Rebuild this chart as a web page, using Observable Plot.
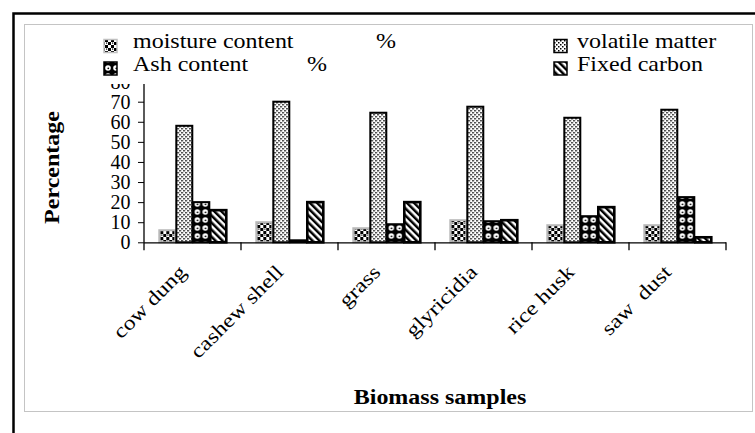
<!DOCTYPE html>
<html><head><meta charset="utf-8">
<script src="https://cdn.jsdelivr.net/npm/d3@7"></script>
<script src="https://cdn.jsdelivr.net/npm/@observablehq/plot@0.6"></script>
<style>
html,body{margin:0;padding:0;background:#fff;}
svg text{white-space:pre;}
</style></head><body><div id="chart"></div>
<script>
const categories = ["cow dung", "cashew shell", "grass", "glyricidia", "rice husk", "saw  dust"];
const seriesKeys = ["moisture", "volatile", "ash", "fixed"];
const seriesLabels = ["moisture content", "volatile matter", "Ash content", "Fixed carbon"];
const moisture = [6, 10, 7, 11, 8.5, 8.5];
const volatile = [58, 70, 64.5, 67.5, 62, 66];
const ash = [20, 1, 9, 10.5, 13, 22.5];
const fixed = [16, 20, 20, 11, 17.5, 2.5];
const yTicks = [0, 10, 20, 30, 40, 50, 60, 70, 80];
const yTitle = "Percentage";
const xTitle = "Biomass samples";

const valuesBySeries = {moisture, volatile, ash, fixed};
const data = categories.flatMap((c, i) => seriesKeys.map(k => ({category: c, series: k, value: valuesBySeries[k][i]})));

const looks = {
  moisture: {fill: "url(#pMoist)", stroke: "#b8b8b8", sw: 2},
  volatile: {fill: "url(#pVol)", stroke: "#000", sw: 2},
  ash: {fill: "url(#pAsh)", stroke: "#000", sw: 2},
  fixed: {fill: "url(#pFix)", stroke: "#000", sw: 2.6}
};

const plot = Plot.plot({
  width: 755, height: 433,
  marginLeft: 142.7, marginRight: 26.7, marginTop: 81.6, marginBottom: 190.7,
  style: {fontFamily: "'Liberation Serif','Times New Roman',serif", fontSize: "20px", color: "#000", background: "transparent", overflow: "visible"},
  fx: {domain: categories, padding: 0, label: null},
  x: {domain: seriesKeys, paddingInner: 0.08, paddingOuter: 0.75, axis: null},
  y: {domain: [0, 80], label: null},
  marks: [
    Plot.axisY({ticks: yTicks, tickSize: 6, tickPadding: 8, label: null, fontSize: 20, stroke: "#000"}),
    Plot.axisFx({anchor: "bottom", tickRotate: -45, tickSize: 0, tickPadding: 0, dx: -10, dy: 26, label: null, fontSize: 20}),
    ...seriesKeys.map(k => Plot.barY(data.filter(d => d.series === k), {
      fx: "category", x: "series", y: "value",
      fill: looks[k].fill, stroke: looks[k].stroke, strokeWidth: looks[k].sw
    })),
    Plot.ruleY([0], {stroke: "#000", strokeWidth: 1.3})
  ]
});

document.getElementById("chart").appendChild(plot);
const svg = d3.select(plot);

// patterns
const defs = svg.insert("defs", ":first-child");
const pm = defs.append("pattern").attr("id", "pMoist").attr("patternUnits", "userSpaceOnUse").attr("width", 6).attr("height", 6);
pm.append("rect").attr("width", 6).attr("height", 6).attr("fill", "#fff");
pm.append("rect").attr("width", 3).attr("height", 3).attr("fill", "#000");
pm.append("rect").attr("x", 3).attr("y", 3).attr("width", 3).attr("height", 3).attr("fill", "#000");
pm.append("rect").attr("x", 4).attr("y", 0.5).attr("width", 1.2).attr("height", 1.2).attr("fill", "#000");
const pv = defs.append("pattern").attr("id", "pVol").attr("patternUnits", "userSpaceOnUse").attr("width", 4).attr("height", 4);
pv.append("rect").attr("width", 4).attr("height", 4).attr("fill", "#fff");
pv.append("rect").attr("width", 1.5).attr("height", 1.5).attr("fill", "#000");
pv.append("rect").attr("x", 2).attr("y", 2).attr("width", 1.5).attr("height", 1.5).attr("fill", "#000");
const pa = defs.append("pattern").attr("id", "pAsh").attr("patternUnits", "userSpaceOnUse").attr("width", 8).attr("height", 8);
pa.append("rect").attr("width", 8).attr("height", 8).attr("fill", "#000");
pa.append("circle").attr("cx", 4).attr("cy", 4).attr("r", 2.8).attr("fill", "#fff");
pa.append("circle").attr("cx", 4.3).attr("cy", 4.3).attr("r", 0.9).attr("fill", "#000");
const pf = defs.append("pattern").attr("id", "pFix").attr("patternUnits", "userSpaceOnUse").attr("width", 5).attr("height", 5).attr("patternTransform", "rotate(-45)");
pf.append("rect").attr("width", 5).attr("height", 5).attr("fill", "#fff");
pf.append("rect").attr("width", 2.5).attr("height", 5).attr("fill", "#000");

// stretch category labels along their direction
svg.selectAll('g[aria-label="fx-axis tick label"] text').attr("transform", function() {
  return (this.getAttribute("transform") || "") + " scale(1.2,1)";
});

// axis lines & boundary ticks from the scales
const fxS = plot.scale("fx"), yS = plot.scale("y");
const left = fxS.apply(categories[0]);
const bounds = categories.map(c => fxS.apply(c)).concat([fxS.apply(categories[categories.length - 1]) + fxS.bandwidth]);
const y0 = yS.apply(0), yTop = yS.apply(80);
const ax = svg.append("g");
ax.append("line").attr("x1", left).attr("x2", left).attr("y1", yTop).attr("y2", y0).attr("stroke", "#000").attr("stroke-width", 1.3);
bounds.forEach(b => ax.append("line").attr("x1", b).attr("x2", b).attr("y1", y0).attr("y2", y0 + 8).attr("stroke", "#000").attr("stroke-width", 1.3));

// borders
svg.insert("rect", "defs + *").attr("x", 24.5).attr("y", 24.5).attr("width", 728).attr("height", 387).attr("fill", "#fff").attr("stroke", "#c4c4c4").attr("stroke-width", 1);
svg.insert("rect", "defs + *").attr("x", 13.5).attr("y", 13.5).attr("width", 760).attr("height", 440).attr("fill", "#fff").attr("stroke", "#000").attr("stroke-width", 2.5);

// legend (covers top of plot)
const lg = svg.append("g").attr("text-anchor", "start");
lg.append("rect").attr("x", 26).attr("y", 26).attr("width", 724).attr("height", 58).attr("fill", "#fff");
const legendPos = [
  {k: "moisture", sx: 104, sy: 39.5, tx: 133, ty: 47.5, pct: 376},
  {k: "volatile", sx: 554, sy: 39.5, tx: 577, ty: 47.5, pct: null},
  {k: "ash", sx: 104, sy: 62, tx: 133, ty: 71, pct: 307},
  {k: "fixed", sx: 554, sy: 62, tx: 577, ty: 71, pct: null}
];
legendPos.forEach(p => {
  const i = seriesKeys.indexOf(p.k);
  lg.append("rect").attr("x", p.sx).attr("y", p.sy).attr("width", 13).attr("height", 13)
    .attr("fill", looks[p.k].fill).attr("stroke", p.k === "moisture" ? "#c0c0c0" : "#000").attr("stroke-width", 1.5);
  lg.append("text").attr("transform", `translate(${p.tx},${p.ty}) scale(1.2,1)`).attr("text-anchor", "start").attr("font-size", 20).attr("fill", "#000").text(seriesLabels[i]);
  if (p.pct !== null) lg.append("text").attr("transform", `translate(${p.pct},${p.ty}) scale(1.2,1)`).attr("text-anchor", "start").attr("font-size", 20).attr("fill", "#000").text("%");
});

// titles
svg.append("text").attr("transform", "translate(58.5,167.5) rotate(-90) scale(1.2,1)").attr("text-anchor", "middle").attr("font-weight", "bold").attr("font-size", 20).attr("fill", "#000").text(yTitle);
svg.append("text").attr("transform", "translate(440,404) scale(1.2,1)").attr("text-anchor", "middle").attr("font-weight", "bold").attr("font-size", 20).attr("fill", "#000").text(xTitle);
</script></body></html>
